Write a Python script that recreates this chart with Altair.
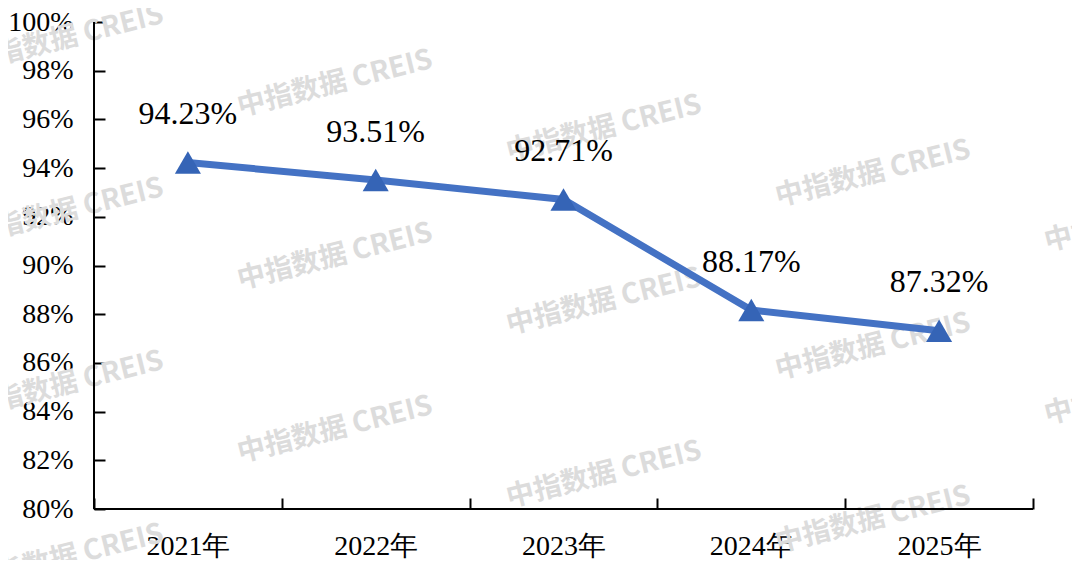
import altair as alt
import pandas as pd

years = ["2021年", "2022年", "2023年", "2024年", "2025年"]
rates = [94.23, 93.51, 92.71, 88.17, 87.32]
labels = ["94.23%", "93.51%", "92.71%", "88.17%", "87.32%"]
y_ticks = [80, 82, 84, 86, 88, 90, 92, 94, 96, 98, 100]
wm_cols = [0, 1, 2, 3, 4]
wm_rows = [-1, 0, 1, 2, 3]
wm_text = "中指数据 CREIS"

df = pd.DataFrame({"year": years, "rate": rates, "label": labels})
wm = pd.DataFrame([{"c": c, "r": r, "t": wm_text} for c in wm_cols for r in wm_rows])

W, H = 939, 487
SERIF = "Times New Roman"

x_enc = alt.X(
    "year:N",
    sort=years,
    bandPosition=0.5,
    scale=alt.Scale(type="band", paddingInner=0, paddingOuter=0),
    axis=alt.Axis(
        title=None, domain=False, offset=-11, tickSize=11, tickWidth=2,
        tickColor="black", tickBand="extent", labelPadding=23, labelAngle=0,
        labelFont=SERIF, labelFontSize=28, labelColor="black", grid=False,
    ),
)
y_enc = alt.Y(
    "rate:Q",
    scale=alt.Scale(domain=[80, 100], nice=False, zero=False),
    axis=alt.Axis(
        values=y_ticks, title=None, domain=False, offset=-11, tickSize=11,
        tickWidth=2, tickColor="black", labelExpr="datum.value + '%'",
        labelPadding=21, labelFont=SERIF, labelFontSize=28, labelColor="black",
        grid=False,
    ),
)

base = alt.Chart(df).encode(x=x_enc, y=y_enc)
line = base.mark_line(color="#4472C4", strokeWidth=7)
pts = base.mark_point(shape="triangle-up", size=680, filled=True, opacity=1, color="#3564B6")
txt = base.mark_text(font=SERIF, fontSize=32, baseline="alphabetic", dy=-38.5, color="black").encode(text="label:N")
xdom = alt.Chart(df).mark_rule(color="black", strokeWidth=2).encode(y=alt.datum(80))
ydom = alt.Chart(df).mark_rule(color="black", strokeWidth=2).encode(x=alt.value(0))

main = alt.layer(line, pts, txt, xdom, ydom)

water = alt.Chart(wm).transform_calculate(
    wx="-28 + 269 * datum.c",
    wy="190 + 45 * datum.c + 173 * datum.r",
).mark_text(
    font="Noto Sans CJK SC", fontSize=28, fontWeight="bold", color="#dcdcdc",
    angle=346, align="center", baseline="middle",
).encode(
    x=alt.X("wx:Q", scale=None, axis=None),
    y=alt.Y("wy:Q", scale=None, axis=None),
    text="t:N",
)

chart = alt.layer(water, main).resolve_scale(x="independent", y="independent").properties(
    width=W, height=H, autosize="none",
    padding={"left": 86, "top": 14, "right": 39, "bottom": 51},
    background="white",
).configure_view(stroke=None)

chart.save("out.html", embed_options={"renderer": "svg", "actions": False})
